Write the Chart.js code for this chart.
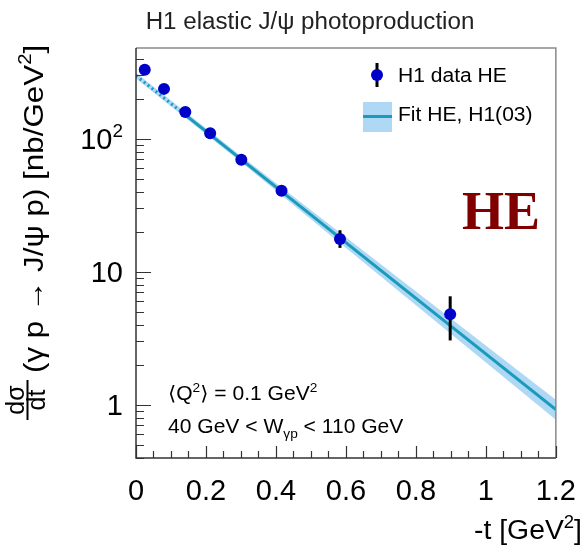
<!DOCTYPE html>
<html>
<head>
<meta charset="utf-8">
<script src="https://cdn.jsdelivr.net/npm/chart.js@4"></script>
<style>
  html, body { margin: 0; padding: 0; background: #fff; }
  canvas { display: block; }
</style>
</head>
<body>
<canvas id="chart" width="585" height="554"></canvas>
<script>
'use strict';

const sansFont = '"Liberation Sans", Arial, "DejaVu Sans", sans-serif';
const serifFont = '"Liberation Serif", "Times New Roman", serif';

// H1 data HE: -t [GeV^2] and dsigma/dt [nb/GeV^2]
const tValues = [0.025, 0.08, 0.141, 0.212, 0.301, 0.416, 0.583, 0.898];
const xsecValues = [330, 237, 159, 110, 69.5, 40.6, 17.6, 4.78];
const errUp = [9, 7, 5, 3.5, 2.2, 1.4, 2.9, 1.75];
const errDown = [9, 7, 5, 3.5, 2.2, 1.4, 2.5, 1.74];

// Fit HE, H1(03): extrapolated (dotted) and fitted (solid) parts, plus error band
const fitDottedT = [0, 0.13];
const fitDottedY = [298, 159];
const fitSolidT = [0.13, 1.2];
const fitSolidY = [159, 0.92];
const bandT = [0, 0.3, 1.2];
const bandUpper = [313, 74, 1.09];
const bandLower = [284, 66.7, 0.77];

// axis ticks
const xMajorTicks = [0, 0.2, 0.4, 0.6, 0.8, 1, 1.2];
const xMinorTicks = [0.05, 0.1, 0.15, 0.25, 0.3, 0.35, 0.45, 0.5, 0.55, 0.65, 0.7, 0.75,
  0.85, 0.9, 0.95, 1.05, 1.1, 1.15];
const yMajorTicks = [1, 10, 100];
const yTickLabels = [[['1', '']], [['10', '']], [['10', ''], ['2', 'sup']]];
const yMinorTicks = [0.4, 0.5, 0.6, 0.7, 0.8, 0.9, 2, 3, 4, 5, 6, 7, 8, 9,
  20, 30, 40, 50, 60, 70, 80, 90, 200, 300, 400];

const markerColor = '#0000c8';
const fitColor = '#1a9bbb';
const bandColor = 'rgba(140, 200, 240, 0.7)';

function pts(xs, ys) {
  return xs.map((v, i) => ({x: v, y: ys[i]}));
}

// draws [text, 'sup'|'sub'|''] pieces on one baseline
function richText(ctx, parts, x, y, size, align, stretch) {
  stretch = stretch || 1;
  const fontOf = (p) => ((p[1] ? size * 0.65 : size).toFixed(1) + 'px ' + sansFont);
  let width = 0;
  parts.forEach((p) => { ctx.font = fontOf(p); width += ctx.measureText(p[0]).width; });
  ctx.save();
  ctx.translate(x, y);
  ctx.scale(stretch, 1);
  let cx = align === 'right' ? -width : (align === 'center' ? -width / 2 : 0);
  ctx.textAlign = 'left';
  ctx.textBaseline = 'alphabetic';
  parts.forEach((p) => {
    ctx.font = fontOf(p);
    let dy = 0;
    if (p[1] === 'sup') { dy = -size * 0.42; }
    if (p[1] === 'sub') { dy = size * 0.28; }
    ctx.fillText(p[0], cx, dy);
    cx += ctx.measureText(p[0]).width;
  });
  ctx.restore();
  return width * stretch;
}

const overlayPlugin = {
  id: 'overlay',
  beforeDatasetDraw(chart, args) {
    if (args.index !== 0) { return; }
    const {ctx} = chart;
    const xs = chart.scales.x;
    const ys = chart.scales.y;
    ctx.save();
    ctx.strokeStyle = '#000';
    ctx.lineWidth = 3;
    tValues.forEach((t, i) => {
      const px = xs.getPixelForValue(t);
      ctx.beginPath();
      ctx.moveTo(px, ys.getPixelForValue(xsecValues[i] + errUp[i]));
      ctx.lineTo(px, ys.getPixelForValue(xsecValues[i] - errDown[i]));
      ctx.stroke();
    });
    ctx.restore();
  },
  afterDraw(chart) {
    const {ctx, chartArea: area} = chart;
    const xs = chart.scales.x;
    const ys = chart.scales.y;
    ctx.save();

    // frame
    ctx.strokeStyle = '#8a8a8a';
    ctx.lineWidth = 1.5;
    ctx.beginPath();
    ctx.moveTo(area.left, area.top);
    ctx.lineTo(area.right, area.top);
    ctx.lineTo(area.right, area.bottom);
    ctx.stroke();
    ctx.strokeStyle = '#333';
    ctx.beginPath();
    ctx.moveTo(area.left, area.top);
    ctx.lineTo(area.left, area.bottom);
    ctx.lineTo(area.right, area.bottom);
    ctx.stroke();

    // inward ticks
    ctx.lineWidth = 1.2;
    ctx.beginPath();
    xMajorTicks.concat(xMinorTicks).forEach((v) => {
      const px = Math.round(xs.getPixelForValue(v)) + 0.5;
      const len = xMajorTicks.includes(v) ? 12 : 7;
      ctx.moveTo(px, area.bottom);
      ctx.lineTo(px, area.bottom - len);
    });
    yMajorTicks.concat(yMinorTicks).forEach((v) => {
      const py = Math.round(ys.getPixelForValue(v)) + 0.5;
      const len = yMajorTicks.includes(v) ? 15 : 8;
      ctx.moveTo(area.left, py);
      ctx.lineTo(area.left + len, py);
    });
    ctx.stroke();

    // y tick labels with a real superscript
    ctx.fillStyle = '#000';
    yMajorTicks.forEach((v, i) => {
      richText(ctx, yTickLabels[i], 123, ys.getPixelForValue(v) + 10.5, 29, 'right', 1);
    });

    // title
    ctx.fillStyle = '#222';
    richText(ctx, [['H1 elastic J/ψ photoproduction', '']], 310, 29, 23, 'center', 1.05);

    // x title
    ctx.fillStyle = '#000';
    richText(ctx, [['-t [GeV', ''], ['2', 'sup'], [']', '']], 582, 539, 27, 'right', 1.05);

    // y title, rotated
    ctx.save();
    ctx.translate(43, 373);
    ctx.rotate(-Math.PI / 2);
    richText(ctx, [['(γ p → J/ψ p) [nb/GeV', ''], ['2', 'sup'], [']', '']], 0, 0, 28, 'left', 1.12);
    ctx.font = '25px ' + sansFont;
    ctx.textAlign = 'center';
    ctx.fillText('dσ', -27, -19);
    ctx.fillText('dt', -27, 2);
    ctx.fillRect(-47, -16.5, 40, 2);
    ctx.restore();

    // legend
    const lx = 377;
    ctx.strokeStyle = '#000';
    ctx.lineWidth = 3;
    ctx.beginPath();
    ctx.moveTo(lx, 63);
    ctx.lineTo(lx, 87);
    ctx.stroke();
    ctx.fillStyle = markerColor;
    ctx.beginPath();
    ctx.arc(lx, 75, 6, 0, Math.PI * 2);
    ctx.fill();
    ctx.fillStyle = bandColor;
    ctx.fillRect(363, 102, 29, 30);
    ctx.strokeStyle = fitColor;
    ctx.beginPath();
    ctx.moveTo(363, 116.5);
    ctx.lineTo(392, 116.5);
    ctx.stroke();
    ctx.fillStyle = '#000';
    richText(ctx, [['H1 data HE', '']], 398, 82, 19.5, 'left', 1.08);
    richText(ctx, [['Fit HE, H1(03)', '']], 398, 121, 19.5, 'left', 1.08);

    // HE label
    ctx.fillStyle = '#800000';
    ctx.font = 'bold 54px ' + serifFont;
    ctx.textAlign = 'left';
    ctx.fillText('HE', 462, 229);

    // kinematic range
    ctx.fillStyle = '#000';
    richText(ctx, [['⟨Q', ''], ['2', 'sup'], ['⟩ = 0.1 GeV', ''], ['2', 'sup']], 168, 400, 19.5, 'left', 1.08);
    richText(ctx, [['40 GeV < W', ''], ['γp', 'sub'], [' < 110 GeV', '']], 168, 433, 19.5, 'left', 1.08);

    ctx.restore();
  },
};

new Chart(document.getElementById('chart'), {
  type: 'scatter',
  data: {
    datasets: [
      {
        label: 'H1 data HE',
        data: pts(tValues, xsecValues),
        backgroundColor: markerColor,
        borderWidth: 0,
        pointRadius: 6,
        order: 0,
      },
      {
        label: 'Fit HE, H1(03)',
        data: pts(fitSolidT, fitSolidY),
        showLine: true,
        borderColor: fitColor,
        borderWidth: 3,
        pointRadius: 0,
        order: 1,
      },
      {
        label: 'Fit HE extrapolated',
        data: pts(fitDottedT, fitDottedY),
        showLine: true,
        borderColor: fitColor,
        borderWidth: 3,
        borderDash: [2, 3],
        pointRadius: 0,
        order: 1,
      },
      {
        label: 'band low',
        data: pts(bandT, bandLower),
        showLine: true,
        borderWidth: 0,
        borderColor: 'rgba(0,0,0,0)',
        pointRadius: 0,
        order: 2,
      },
      {
        label: 'band high',
        data: pts(bandT, bandUpper),
        showLine: true,
        borderWidth: 0,
        borderColor: 'rgba(0,0,0,0)',
        backgroundColor: bandColor,
        fill: '-1',
        pointRadius: 0,
        order: 2,
      },
    ],
  },
  options: {
    responsive: false,
    animation: false,
    events: [],
    layout: {
      padding: {top: 48, right: 24, bottom: 0, left: 0},
    },
    plugins: {
      legend: {display: false},
      tooltip: {enabled: false},
      title: {display: false},
    },
    scales: {
      x: {
        type: 'linear',
        min: 0,
        max: 1.2,
        border: {display: false},
        grid: {display: false},
        afterBuildTicks: (scale) => { scale.ticks = xMajorTicks.map((v) => ({value: v})); },
        afterFit: (scale) => { scale.height = 96; },
        ticks: {
          autoSkip: false,
          maxRotation: 0,
          padding: 9,
          color: '#000',
          font: {family: sansFont, size: 29},
          callback: (v) => String(+v.toFixed(1)),
        },
      },
      y: {
        type: 'logarithmic',
        min: 0.397,
        max: 481,
        border: {display: false},
        grid: {display: false},
        afterBuildTicks: (scale) => { scale.ticks = yMajorTicks.map((v) => ({value: v})); },
        afterFit: (scale) => { scale.width = 136; },
        ticks: {display: false},
      },
    },
  },
  plugins: [overlayPlugin],
});
</script>
</body>
</html>
